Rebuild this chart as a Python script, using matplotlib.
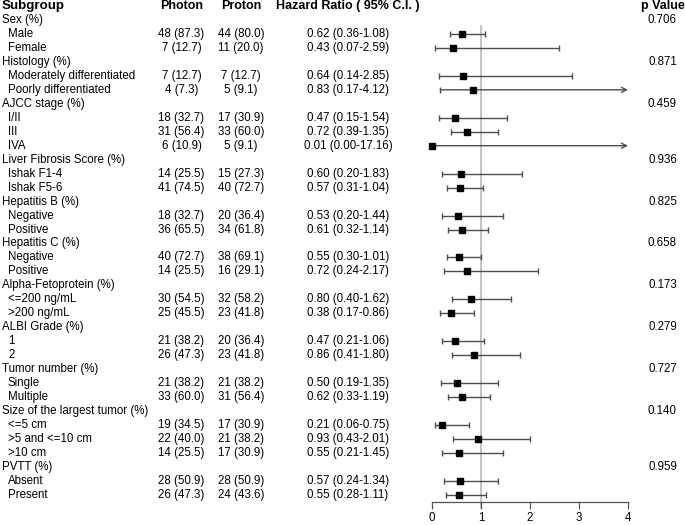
import matplotlib
matplotlib.use("Agg")
import matplotlib.pyplot as plt
from matplotlib.transforms import blended_transform_factory

plt.rcParams['font.family'] = ['Liberation Sans', 'DejaVu Sans']

# ---------------- data ----------------
group_names = ["Sex (%)", "Histology (%)", "AJCC stage (%)", "Liver Fibrosis Score (%)",
               "Hepatitis B (%)", "Hepatitis C (%)", "Alpha-Fetoprotein (%)", "ALBI Grade (%)",
               "Tumor number (%)", "Size of the largest tumor (%)", "PVTT (%)"]
p_values = ["0.706", "0.871", "0.459", "0.936", "0.825", "0.658", "0.173", "0.279",
            "0.727", "0.140", "0.959"]
group_sizes = [2, 2, 3, 2, 2, 2, 2, 2, 2, 3, 2]

sub_labels = ["Male", "Female",
              "Moderately differentiated", "Poorly differentiated",
              "I/II", "III", "IVA",
              "Ishak F1-4", "Ishak F5-6",
              "Negative", "Positive",
              "Negative", "Positive",
              "<=200 ng/mL", ">200 ng/mL",
              "1", "2",
              "Single", "Multiple",
              "<=5 cm", ">5 and <=10 cm", ">10 cm",
              "Absent", "Present"]
photon_n = [48, 7, 7, 4, 18, 31, 6, 14, 41, 18, 36, 40, 14, 30, 25, 21, 26, 21, 33, 19, 22, 14, 28, 26]
photon_pct = [87.3, 12.7, 12.7, 7.3, 32.7, 56.4, 10.9, 25.5, 74.5, 32.7, 65.5, 72.7, 25.5,
              54.5, 45.5, 38.2, 47.3, 38.2, 60.0, 34.5, 40.0, 25.5, 50.9, 47.3]
proton_n = [44, 11, 7, 5, 17, 33, 5, 15, 40, 20, 34, 38, 16, 32, 23, 20, 23, 21, 31, 17, 21, 17, 28, 24]
proton_pct = [80.0, 20.0, 12.7, 9.1, 30.9, 60.0, 9.1, 27.3, 72.7, 36.4, 61.8, 69.1, 29.1,
              58.2, 41.8, 36.4, 41.8, 38.2, 56.4, 30.9, 38.2, 30.9, 50.9, 43.6]
hr = [0.62, 0.43, 0.64, 0.83, 0.47, 0.72, 0.01, 0.60, 0.57, 0.53, 0.61, 0.55, 0.72,
      0.80, 0.38, 0.47, 0.86, 0.50, 0.62, 0.21, 0.93, 0.55, 0.57, 0.55]
ci_low = [0.36, 0.07, 0.14, 0.17, 0.15, 0.39, 0.00, 0.20, 0.31, 0.20, 0.32, 0.30, 0.24,
          0.40, 0.17, 0.21, 0.41, 0.19, 0.33, 0.06, 0.43, 0.21, 0.24, 0.28]
ci_high = [1.08, 2.59, 2.85, 4.12, 1.54, 1.35, 17.16, 1.83, 1.04, 1.44, 1.14, 1.01, 2.17,
           1.62, 0.86, 1.06, 1.80, 1.35, 1.19, 0.75, 2.01, 1.45, 1.34, 1.11]
x_ticks = [0, 1, 2, 3, 4]

# ---------------- layout ----------------
W, H = 685, 525
fig = plt.figure(figsize=(W / 100, H / 100), dpi=100)
row0, dy = 6.0, 13.97
y_top_px, y_bot_px = 0, 502
ax = fig.add_axes([432 / W, (H - y_bot_px) / H, 196 / W, (y_bot_px - y_top_px) / H])
ax.set_xlim(0, 4)
ax.set_ylim((y_bot_px - row0) / dy, (y_top_px - row0) / dy)
for s in ["top", "right", "left"]:
    ax.spines[s].set_visible(False)
ax.spines["bottom"].set_color("#555555")
ax.spines["bottom"].set_linewidth(0.9)
ax.set_yticks([])
ax.set_xticks(x_ticks)
ax.set_xticklabels([str(t) for t in x_ticks])
ax.tick_params(axis="x", length=5, width=0.9, color="#555555", labelsize=8.3, pad=2.5)
ax.patch.set_alpha(0)

tr = blended_transform_factory(fig.transFigure, ax.transData)
fs = 8.3
hfs = 9.0
def fx(px):
    return px / W

# headers
ax.text(fx(2), 0, "Subgroup", transform=tr, ha="left", va="center", fontsize=hfs + 0.6, fontweight="bold")
ax.text(fx(181.5), 0, "Photon", transform=tr, ha="center", va="center", fontsize=hfs, fontweight="bold")
ax.text(fx(241), 0, "Proton", transform=tr, ha="center", va="center", fontsize=hfs, fontweight="bold")
ax.text(fx(347.5), 0, "Hazard Ratio ( 95% C.I. )", transform=tr, ha="center", va="center", fontsize=hfs, fontweight="bold")
ax.text(fx(662.5), 0, "p Value", transform=tr, ha="center", va="center", fontsize=hfs, fontweight="bold")

# reference line
ax.plot([1, 1], [(26 - row0) / dy, (y_bot_px + 5 - row0) / dy], color="#c4c4c4", lw=1.5,
        clip_on=False, zorder=1)

row = 1
k = 0
col = "#4d4d4d"
for g, name in enumerate(group_names):
    ax.text(fx(2), row, name, transform=tr, ha="left", va="center", fontsize=fs)
    ax.text(fx(662.5), row, p_values[g], transform=tr, ha="center", va="center", fontsize=fs)
    row += 1
    for _ in range(group_sizes[g]):
        ax.text(fx(8), row, sub_labels[k], transform=tr, ha="left", va="center", fontsize=fs)
        ax.text(fx(181.5), row, f"{photon_n[k]} ({photon_pct[k]:.1f})", transform=tr,
                ha="center", va="center", fontsize=fs)
        ax.text(fx(241), row, f"{proton_n[k]} ({proton_pct[k]:.1f})", transform=tr,
                ha="center", va="center", fontsize=fs)
        ax.text(fx(348), row, f"{hr[k]:.2f} ({ci_low[k]:.2f}-{ci_high[k]:.2f})", transform=tr,
                ha="center", va="center", fontsize=fs)
        lo, hi = ci_low[k], ci_high[k]
        if hi > 4:
            ax.annotate("", xy=(4, row), xytext=(lo, row),
                        arrowprops=dict(arrowstyle="->", color=col, lw=1.0,
                                        shrinkA=0, shrinkB=0, mutation_scale=9),
                        annotation_clip=False)
            ax.plot([lo], [row], marker="|", ms=4.4, mew=1.0, color=col, clip_on=False)
        else:
            ax.errorbar([hr[k]], [row], xerr=[[hr[k] - lo], [hi - hr[k]]], fmt="none",
                        ecolor=col, elinewidth=1.0, capsize=2.2, capthick=1.0, clip_on=False)
        ax.plot([hr[k]], [row], marker="s", ms=3.8, color="black", clip_on=False, zorder=5)
        row += 1
        k += 1

fig.savefig("out.png", dpi=100)
